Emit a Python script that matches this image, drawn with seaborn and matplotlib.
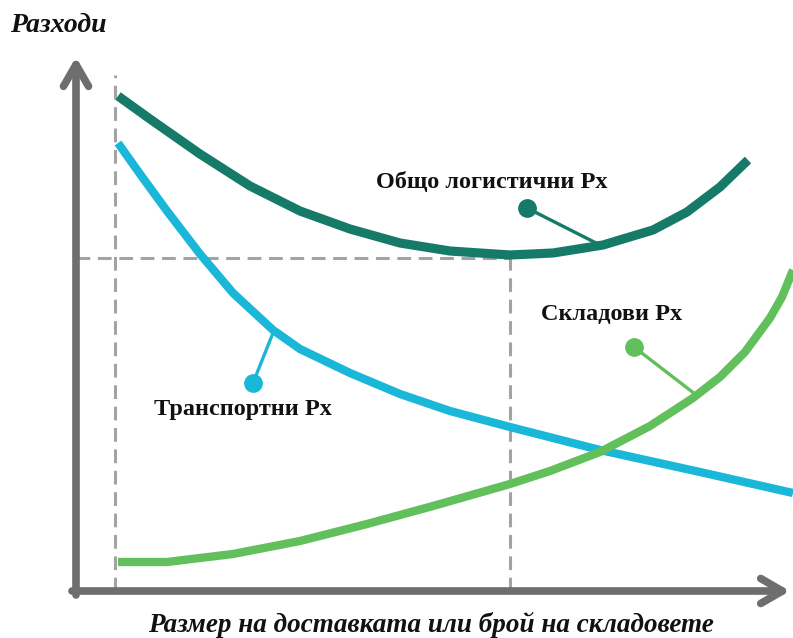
import matplotlib
matplotlib.use("Agg")
import matplotlib.pyplot as plt
import seaborn as sns
import pandas as pd

# Data (chart units: origin at the axes corner)
total_x = [42, 74, 124, 174, 224, 274, 324, 374, 434, 477, 527, 577, 611, 644, 672]
total_y = [495, 472, 437, 405, 380, 362, 348, 340, 336, 338, 346, 361, 379, 404, 431]

transport_x = [42, 64, 91, 124, 157, 197, 224, 274, 324, 374, 434, 524, 624, 717]
transport_y = [448, 417, 380, 337, 298, 261, 242, 218, 197, 180, 164, 141, 119, 98]

storage_x = [42, 91, 157, 224, 291, 357, 434, 474, 524, 574, 617, 644, 669, 694, 706, 717]
storage_y = [29, 29, 37, 50, 67, 85, 107, 120, 139, 165, 193, 214, 239, 273, 294, 321]

labels = ["Общо логистични Рх", "Транспортни Рх", "Складови Рх"]
colors = ["#157a68", "#1bb7d9", "#62c05c"]
y_label = "Разходи"
x_label = "Размер на доставката или брой на складовете"

start_x = 39
opt_x = 434
opt_y = 333

sns.set_theme(style="white")
plt.rcParams["font.family"] = ["Liberation Serif", "DejaVu Serif"]

fig = plt.figure(figsize=(7.93, 6.38), dpi=100)
ax = fig.add_axes([0, 0, 1, 1])
ax.set_xlim(-76, 717)
ax.set_ylim(-47, 591)
ax.axis("off")

gray_dash = "#a3a3a3"
dash = (0, (4.5, 2.5))
ax.plot([start_x, start_x], [0, 516], color=gray_dash, lw=2.2, ls=dash, zorder=1)
ax.plot([0, opt_x], [opt_y, opt_y], color=gray_dash, lw=2.2, ls=dash, zorder=1)
ax.plot([opt_x, opt_x], [0, opt_y], color=gray_dash, lw=2.2, ls=dash, zorder=1)

df = pd.concat([
    pd.DataFrame({"x": total_x, "y": total_y, "s": labels[0]}),
    pd.DataFrame({"x": transport_x, "y": transport_y, "s": labels[1]}),
    pd.DataFrame({"x": storage_x, "y": storage_y, "s": labels[2]}),
])
sns.lineplot(data=df, x="x", y="y", hue="s", palette=dict(zip(labels, colors)),
             sort=False, estimator=None, legend=False, ax=ax, zorder=3,
             solid_capstyle="butt", solid_joinstyle="round")
for line, w in zip(ax.get_lines()[-3:], [6.6, 6.0, 6.0]):
    line.set_linewidth(w)

# axes arrows (open chevron heads)
axis_col = "#6e6e6e"
for xy, xytext in [((0, 534), (0, -4)), ((714, 0), (-4, 0))]:
    ax.annotate("", xy=xy, xytext=xytext,
                arrowprops=dict(arrowstyle="->,head_length=1.3,head_width=0.75",
                                color=axis_col, lw=5.5, shrinkA=0, shrinkB=0),
                zorder=2)

# annotations: dot, leader, text
ann = [
    ((451, 383), (526, 345), (416, 409), colors[0]),
    ((177, 208), (197, 258), (167, 181), colors[1]),
    ((558, 244), (619, 197), (536, 277), colors[2]),
]
for (dot, end, txt, c), lab in zip(ann, labels):
    ax.plot([dot[0], end[0]], [dot[1], end[1]], color=c, lw=2.4, zorder=4)
    ax.plot([dot[0]], [dot[1]], "o", color=c, ms=12.5, zorder=5)
    ax.text(txt[0], txt[1], lab, ha="center", va="center", fontsize=17.5,
            fontweight="bold", color="#111111")

ax.text(-66, 566, y_label, ha="left", va="center", fontsize=20,
        fontweight="bold", fontstyle="italic", color="#111111")
ax.text(355, -34, x_label, ha="center", va="center", fontsize=19.5,
        fontweight="bold", fontstyle="italic", color="#111111")

fig.savefig("out.png", dpi=100)
